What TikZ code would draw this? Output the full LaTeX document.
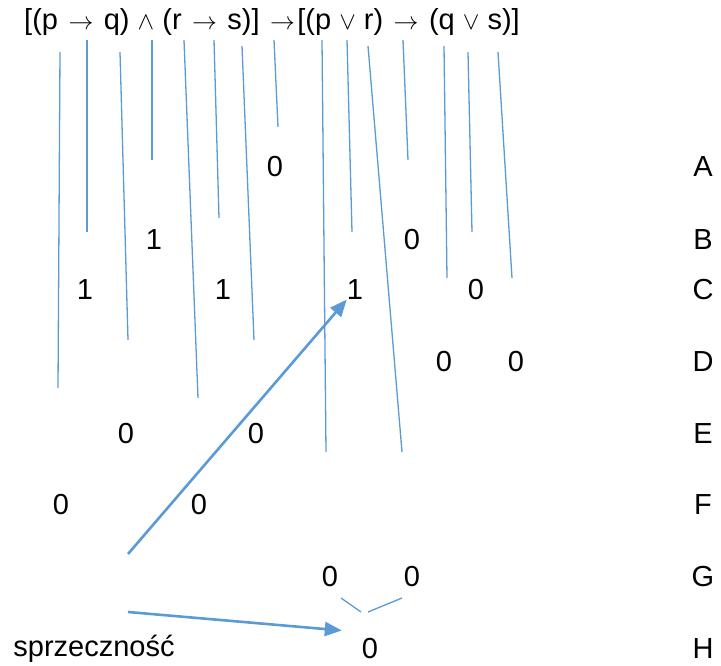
\documentclass[tikz,border=0pt]{standalone}
\usepackage{fontspec}
\setmainfont{Liberation Sans}
\usetikzlibrary{arrows.meta,calc}
\definecolor{lineblue}{HTML}{5B9BD5}
\newcommand{\impl}{\kern2.4pt$\rightarrow$\kern2.4pt}
\begin{document}
\begin{tikzpicture}[x=1pt, y=-1pt,
  every node/.style={inner sep=0pt, font=\fontsize{29}{35}\selectfont},
  stroke/.style={draw=lineblue, line width=1.3pt},
  pointer/.style={draw=lineblue, line width=2.6pt, -{Triangle[length=17pt,width=14pt]}}]
\useasboundingbox (0,0) rectangle (721,666);
% formula
\node (formula) at (272,22) {[(p \impl{} q) $\wedge$ (r \impl{} s)] \impl[(p $\vee$ r) \impl{} (q $\vee$ s)]};
% strokes under the formula
\draw[stroke] (60,52) -- (58,388);
\draw[stroke] (87,40) -- (87,232);
\draw[stroke] (120,52) -- (128,340);
\draw[stroke] (152,40) -- (152,160);
\draw[stroke] (184,40) -- (198,398);
\draw[stroke] (214,40) -- (219,218);
\draw[stroke] (242,46) -- (254,340);
\draw[stroke] (274,40) -- (278,127);
\draw[stroke] (322,40) -- (326,452);
\draw[stroke] (347,40) -- (352,232);
\draw[stroke] (368,46) -- (402,452);
\draw[stroke] (403,40) -- (408,160);
\draw[stroke] (444,46) -- (447,278);
\draw[stroke] (468,52) -- (472,232);
\draw[stroke] (498,52) -- (512,278);
% row labels
\node (rowA) at (703,167) {A};
\node (rowB) at (703,240) {B};
\node (rowC) at (703,290) {C};
\node (rowD) at (703,362) {D};
\node (rowE) at (703,434) {E};
\node (rowF) at (703,505) {F};
\node (rowG) at (703,577) {G};
\node (rowH) at (703,649) {H};
% values
\node (a1) at (275,167) {0};
\node (b1) at (154,240) {1};
\node (b2) at (412,240) {0};
\node (c1) at (85,290) {1};
\node (c2) at (223,290) {1};
\node (c3) at (355,290) {1};
\node (c4) at (476,290) {0};
\node (d1) at (444,362) {0};
\node (d2) at (516,362) {0};
\node (e1) at (126,434) {0};
\node (e2) at (256,434) {0};
\node (f1) at (61,505) {0};
\node (f2) at (199,505) {0};
\node (g1) at (330,577) {0};
\node (g2) at (412,577) {0};
\node (h1) at (370,649) {0};
\node (contra) at (94,649) {sprzeczność};
% arrows
\coordinate (startC) at (128,554);
\coordinate (startH) at (128,612);
\draw[pointer] (startC) -- (c3);
\draw[pointer, shorten >=12pt] (startH) -- ($(h1.north west)+(-8,-7)$);
\draw[stroke] ($(g1)+(11,21)$) -- ($(h1)+(-9,-37)$);
\draw[stroke] ($(h1)+(-2,-37)$) -- ($(g2)+(-10,21)$);
\end{tikzpicture}
\end{document}
